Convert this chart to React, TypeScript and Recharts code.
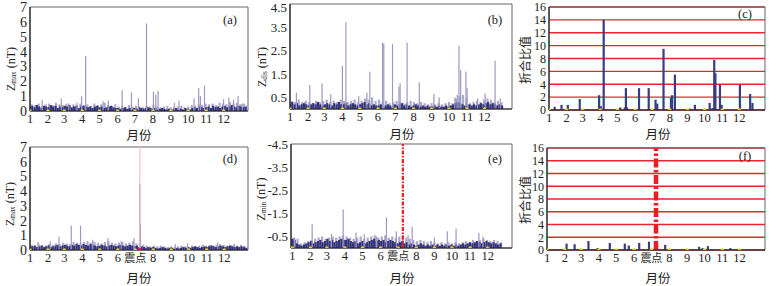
import React from 'react';
import {
  ComposedChart,
  Bar,
  XAxis,
  YAxis,
  Scatter,
  ReferenceLine,
  ReferenceArea,
  CartesianGrid,
} from 'recharts';

const FONT = '"Liberation Serif", "Noto Sans CJK SC", serif';
const CJK = '"Noto Sans CJK SC", "Liberation Serif", serif';

// day of year where each month starts
const monthStarts = [0, 31, 59, 90, 120, 151, 181, 212, 243, 273, 304, 334];
const monthLabels = ['1', '2', '3', '4', '5', '6', '7', '8', '9', '10', '11', '12'];
const quakeLabels = ['1', '2', '3', '4', '5', '6', '震点', '8', '9', '10', '11', '12'];
const quakeDay = 189;

// (a) Zmax, year without quake: background every 4 days, lighter layer every 6 days, spikes [day, nT]
const aDark = [
  0.3, 0.35, 0.25, 0.4, 0.3, 0.2, 0.35, 0.3, 0.25, 0.4, 0.3, 0.35, 0.2, 0.3, 0.25, 0.35, 0.3, 0.4, 0.25, 0.3, 0.35, 0.2, 0.3,
  0.35, 0.3, 0.25, 0.3, 0.2, 0.3, 0.35, 0.25, 0.3, 0.2, 0.25, 0.3, 0.35, 0.25, 0.2,
  0.2, 0.15, 0.2, 0.25, 0.15, 0.2, 0.1, 0.2, 0.15, 0.25, 0.2, 0.15, 0.2, 0.25, 0.2, 0.15, 0.2, 0.1, 0.15, 0.2, 0.15, 0.1, 0.15,
  0.1, 0.15, 0.2, 0.1, 0.15, 0.1, 0.2, 0.15, 0.1, 0.2, 0.25, 0.2, 0.3, 0.25, 0.2,
  0.25, 0.3, 0.2, 0.35, 0.25, 0.3, 0.2, 0.3, 0.35, 0.25, 0.3, 0.4, 0.3, 0.25, 0.35, 0.3, 0.25, 0.3,
];
const aLight = [
  0.45, 0.4, 0.5, 0.35, 0.45, 0.5, 0.4, 0.55, 0.45, 0.4, 0.5, 0.35, 0.45, 0.4, 0.5,
  0.4, 0.45, 0.35, 0.5, 0.4, 0.45, 0.55, 0.4, 0.35, 0.45,
  0.3, 0.35, 0.25, 0.4, 0.3, 0.35, 0.3, 0.25, 0.35, 0.3, 0.4, 0.3, 0.25, 0.3, 0.35, 0.25,
  0.25, 0.3, 0.35, 0.25, 0.3, 0.4, 0.35, 0.45, 0.4, 0.5,
  0.45, 0.5, 0.4, 0.55, 0.5, 0.45, 0.6, 0.5, 0.55, 0.45, 0.5, 0.4,
];
const aSpikes = [
  [21, 0.73], [54, 0.84], [67, 0.5], [81, 0.55], [89, 1.0], [96, 3.7], [126, 0.65], [135, 0.7],
  [159, 1.4], [175, 1.25], [187, 0.85], [201, 5.9], [213, 1.3], [217, 1.1], [221, 1.35],
  [249, 0.55], [257, 0.7], [283, 0.85], [291, 1.55], [294, 1.0], [301, 1.7], [334, 0.8],
  [343, 0.9], [351, 0.75], [359, 1.0], [366, 0.5],
];

// (b) Zdis
const bDark = [
  0.25, 0.3, 0.2, 0.25, 0.15, 0.2, 0.25, 0.2, 0.15, 0.2, 0.25, 0.2, 0.3, 0.2, 0.15, 0.2, 0.25, 0.2, 0.15, 0.25, 0.2, 0.3, 0.2,
  0.2, 0.25, 0.15, 0.2, 0.25, 0.2, 0.15, 0.2, 0.25, 0.3, 0.2, 0.25, 0.15, 0.2, 0.15,
  0.15, 0.2, 0.1, 0.15, 0.2, 0.15, 0.1, 0.2, 0.15, 0.2, 0.25, 0.15, 0.2, 0.15, 0.1, 0.15, 0.2, 0.15, 0.1, 0.15, 0.1, 0.15, 0.1,
  0.1, 0.15, 0.1, 0.15, 0.1, 0.1, 0.15, 0.1, 0.15, 0.2, 0.25, 0.3, 0.25, 0.2, 0.15,
  0.15, 0.2, 0.15, 0.2, 0.15, 0.2, 0.25, 0.2, 0.25, 0.3, 0.2, 0.25, 0.2, 0.15, 0.2, 0.15,
];
const bLight = [
  0.35, 0.3, 0.4, 0.3, 0.35, 0.3, 0.25, 0.35, 0.3, 0.35, 0.4, 0.3, 0.35, 0.3, 0.4,
  0.35, 0.3, 0.35, 0.4, 0.3, 0.35, 0.45, 0.4, 0.5, 0.35,
  0.4, 0.3, 0.35, 0.25, 0.3, 0.35, 0.3, 0.25, 0.3, 0.35, 0.3, 0.25, 0.3, 0.25, 0.2, 0.25,
  0.2, 0.25, 0.2, 0.25, 0.3, 0.25, 0.45, 0.55, 0.6, 0.45,
  0.25, 0.3, 0.35, 0.3, 0.4, 0.45, 0.4, 0.3, 0.35, 0.3,
];
const bSpikes = [
  [11, 0.7], [34, 1.03], [55, 1.1], [70, 0.63], [90, 1.85], [96, 3.72], [118, 0.55], [132, 0.7],
  [137, 1.6], [159, 2.84], [161, 2.8], [176, 2.79], [187, 0.95], [189, 1.1], [201, 2.84],
  [222, 1.14], [247, 0.64], [256, 0.5], [283, 0.5], [287, 0.6], [290, 2.71], [293, 1.67],
  [302, 1.6], [304, 0.89], [322, 0.45], [335, 0.67], [352, 2.07], [361, 0.45],
];

// (c) ratio, year without quake [day, ratio]
const cBars = [
  [10, 0.5], [22, 0.8], [33, 0.8], [54, 1.7], [68, 0.1], [88, 2.3], [91, 0.6], [96, 14],
  [125, 0.4], [133, 0.4], [135, 3.4], [137, 0.4], [158, 3.4], [175, 3.4], [187, 1.6], [190, 1.0],
  [201, 9.5], [214, 1.9], [216, 2.3], [221, 5.5], [247, 0.2], [256, 0.8], [282, 1.1], [287, 0.3],
  [290, 7.8], [292, 5.7], [300, 3.9], [303, 0.8], [335, 3.9], [353, 2.5], [357, 1.1],
];

// (d) Zmax, quake year
const dDark = [
  0.3, 0.25, 0.3, 0.2, 0.25, 0.3, 0.2, 0.25, 0.3, 0.2, 0.25, 0.3, 0.35, 0.25, 0.3, 0.35, 0.3, 0.25, 0.35, 0.3, 0.4, 0.35, 0.3,
  0.4, 0.35, 0.3, 0.4, 0.35, 0.3, 0.25, 0.3, 0.35, 0.3, 0.25, 0.3, 0.35, 0.3, 0.25,
  0.3, 0.35, 0.3, 0.25, 0.3, 0.35, 0.3, 0.25, 0.3, 0.2, 0.25, 0.2, 0.15, 0.2, 0.15, 0.2, 0.15, 0.1, 0.15, 0.2, 0.15, 0.1, 0.15,
  0.15, 0.1, 0.15, 0.1, 0.15, 0.2, 0.15, 0.2, 0.15, 0.2, 0.25, 0.2, 0.15, 0.2, 0.25,
  0.2, 0.25, 0.3, 0.25, 0.2, 0.25, 0.3, 0.25, 0.2, 0.25, 0.3, 0.25, 0.2, 0.25, 0.2, 0.25, 0.2, 0.15,
];
const dLight = [
  0.35, 0.3, 0.4, 0.35, 0.3, 0.4, 0.35, 0.45, 0.4, 0.5, 0.45, 0.4, 0.55, 0.5, 0.45,
  0.55, 0.6, 0.5, 0.55, 0.5, 0.45, 0.55, 0.6, 0.5, 0.45,
  0.5, 0.55, 0.45, 0.5, 0.6, 0.45, 0.4, 0.35, 0.3, 0.25, 0.3, 0.25, 0.3, 0.25, 0.2, 0.25,
  0.2, 0.25, 0.3, 0.25, 0.2, 0.3, 0.25, 0.3, 0.35, 0.3,
  0.35, 0.3, 0.35, 0.4, 0.35, 0.3, 0.35, 0.4, 0.3, 0.35, 0.3, 0.25,
];
const dSpikes = [
  [14, 0.55], [35, 0.6], [50, 0.9], [71, 1.66], [87, 1.66], [108, 0.7], [134, 0.8], [157, 0.6],
  [179, 0.8], [189, 4.5], [190, 1.75], [250, 0.4], [271, 0.45], [323, 0.5],
];

// (e) Zmin (plotted as magnitude), quake year
const eDark = [
  0.4, 0.35, 0.2, 0.15, 0.1, 0.15, 0.2, 0.25, 0.3, 0.2, 0.25, 0.3, 0.35, 0.25, 0.3, 0.4, 0.3, 0.35, 0.25, 0.3, 0.35, 0.4, 0.35,
  0.35, 0.4, 0.3, 0.25, 0.3, 0.2, 0.25, 0.3, 0.2, 0.25, 0.3, 0.35, 0.4, 0.3, 0.35,
  0.3, 0.35, 0.25, 0.3, 0.35, 0.3, 0.25, 0.2, 0.25, 0.3, 0.2, 0.25, 0.15, 0.2, 0.15, 0.1, 0.15, 0.2, 0.15, 0.1, 0.15, 0.1, 0.15,
  0.1, 0.15, 0.1, 0.15, 0.1, 0.15, 0.1, 0.15, 0.1, 0.15, 0.1, 0.15, 0.2, 0.15, 0.2,
  0.25, 0.2, 0.25, 0.3, 0.25, 0.2, 0.25, 0.3, 0.25, 0.2, 0.25, 0.2, 0.15, 0.2,
];
const eLight = [
  0.45, 0.4, 0.2, 0.25, 0.3, 0.35, 0.4, 0.45, 0.5, 0.4, 0.45, 0.5, 0.45, 0.5, 0.55,
  0.5, 0.45, 0.4, 0.45, 0.5, 0.4, 0.45, 0.5, 0.55, 0.45,
  0.5, 0.55, 0.45, 0.5, 0.45, 0.5, 0.55, 0.45, 0.4, 0.35, 0.3, 0.35, 0.3, 0.25, 0.3, 0.25,
  0.2, 0.25, 0.2, 0.25, 0.2, 0.25, 0.2, 0.25, 0.3, 0.25,
  0.35, 0.3, 0.35, 0.4, 0.35, 0.3, 0.35, 0.3, 0.25,
];
const eSpikes = [
  [4, 0.45], [34, 1.03], [67, 0.6], [87, 1.67], [109, 0.67], [123, 0.6], [144, 0.5], [161, 1.32],
  [178, 0.72], [198, 0.55], [205, 0.91], [243, 0.45], [265, 0.72], [280, 0.84], [319, 0.65], [326, 0.5],
];

// (f) ratio, quake year
const fBars = [
  [34, 1.0], [48, 0.9], [72, 1.4], [88, 0.3], [109, 1.1], [135, 1.0], [142, 0.7], [160, 1.1],
  [177, 1.3], [205, 0.8], [264, 0.5], [270, 0.3], [279, 0.6], [318, 0.3],
];

const COLORS: Record<string, string> = { dark: '#34347a', light: '#aca8cf', spike: '#9d99c2', ratio: '#3c3c82' };

const denseRows = (dark: number[], light: number[], spikes: number[][]) => [
  ...light.map((v, i) => ({ x: 3 + i * 6, v, kind: 'light' })),
  ...dark.map((v, i) => ({ x: i * 4, v, kind: 'dark' })),
  ...spikes.map(([x, v]) => ({ x, v, kind: 'spike' })),
];
const ratioRows = (bars: number[][]) => bars.map(([x, v]) => ({ x, v, kind: 'ratio' }));

const tickDots = monthStarts.map((x) => ({ x, y: 0 }));

const YW = 40;
const MT = 10;
const MR = 10;
const XH = 30;

const barShape = (p: any) => {
  const kind = p.payload?.kind ?? 'dark';
  const w = kind === 'spike' ? 1.2 : 2.2;
  const cx = p.x + p.width / 2;
  return <rect x={cx - w / 2} y={p.y} width={w} height={Math.max(0, p.height)} fill={COLORS[kind]} />;
};

const MonthTick = (p: any) => {
  const i = monthStarts.indexOf(p.payload.value);
  const label = p.labels[i];
  const cjk = label === '震点';
  return (
    <text x={p.x} y={p.y} dy={11.5} textAnchor="middle" fontFamily={cjk ? CJK : FONT} fontSize={cjk ? 11 : 12.5} fill="#222">
      {label}
    </text>
  );
};

// y tick label; the top one is kept inside the page
const ValueTick = (p: any) => {
  const label = p.format ? p.format(p.payload.value) : String(p.payload.value);
  return (
    <text x={p.x} y={Math.max(p.y, p.minY)} dy="0.355em" textAnchor="end" fontFamily={FONT} fontSize={p.size} fill="#222">
      {label}
    </text>
  );
};

type PanelProps = {
  box: { x: number; y: number; w: number; h: number };
  xDomain: [number, number];
  yMax: number;
  yTicks: number[];
  yFont: number;
  yFormat?: (v: number) => string;
  labels: string[];
  rows: any[];
  ratio?: boolean;
  quake?: 'pink' | 'dashed' | 'thick';
};

const Panel = ({ box, xDomain, yMax, yTicks, yFont, yFormat, labels, rows, ratio, quake }: PanelProps) => {
  const minY = MT - box.y + 7;
  return (
    <div style={{ position: 'absolute', left: box.x - YW, top: box.y - MT }}>
      <ComposedChart
        width={YW + box.w + MR}
        height={MT + box.h + XH}
        data={rows}
        margin={{ top: MT, right: MR, bottom: 0, left: 0 }}
      >
        {ratio && <CartesianGrid vertical={false} stroke="#e8262c" strokeWidth={1.3} />}
        <XAxis
          type="number"
          dataKey="x"
          domain={xDomain}
          ticks={monthStarts}
          interval={0}
          allowDataOverflow
          height={XH}
          axisLine={{ stroke: '#222', strokeWidth: 1.2 }}
          tickLine={false}
          tickSize={0}
          tickMargin={0}
          tick={(p: any) => <MonthTick {...p} labels={labels} />}
        />
        <YAxis
          type="number"
          domain={[0, yMax]}
          ticks={yTicks}
          interval={0}
          allowDataOverflow
          width={YW}
          axisLine={{ stroke: '#222', strokeWidth: 1.2 }}
          tickLine={false}
          tickSize={0}
          tickMargin={3}
          tick={(p: any) => <ValueTick {...p} size={yFont} format={yFormat} minY={minY} />}
        />
        <ReferenceArea x1={xDomain[0]} x2={xDomain[1]} y1={0} y2={yMax} fill="none" stroke="#666" strokeWidth={1} ifOverflow="extendDomain" />
        {quake === 'pink' && <ReferenceLine x={quakeDay} stroke="#f2b9c2" strokeWidth={1} />}
        <Bar dataKey="v" barSize={2} isAnimationActive={false} shape={barShape} />
        {quake === 'dashed' && (
          <ReferenceLine x={quakeDay} stroke="#ee1c24" strokeWidth={2.2} strokeDasharray="4 1.5 1.5 1.5" />
        )}
        {quake === 'thick' && (
          <ReferenceLine x={quakeDay} stroke="#ee1c24" strokeWidth={4.5} strokeDasharray="9 2.5 2.5 2.5" />
        )}
        <Scatter
          data={tickDots}
          dataKey="y"
          isAnimationActive={false}
          shape={(p: any) => <circle cx={p.cx} cy={p.cy} r={1.8} fill="#e2cf14" />}
        />
        {quake === 'pink' && (
          <Scatter
            data={[{ x: quakeDay, y: 0 }]}
            dataKey="y"
            isAnimationActive={false}
            shape={(p: any) => <circle cx={p.cx} cy={p.cy} r={2} fill="#e8141c" />}
          />
        )}
      </ComposedChart>
    </div>
  );
};

const Txt = ({ x, y, size = 13, font = FONT, rotate = false, children }: any) => (
  <div
    style={{
      position: 'absolute',
      left: x,
      top: y,
      transform: `translate(-50%, -50%)${rotate ? ' rotate(-90deg)' : ''}`,
      whiteSpace: 'nowrap',
      fontFamily: font,
      fontSize: size,
      lineHeight: 1,
      color: '#222',
    }}
  >
    {children}
  </div>
);

const ZLabel = ({ sub }: { sub: string }) => (
  <span>
    Z<sub style={{ fontSize: '0.6em', verticalAlign: '-0.15em' }}>{sub}</sub> (nT)
  </span>
);

const int7 = [0, 1, 2, 3, 4, 5, 6, 7];
const half45 = [0.5, 1.5, 2.5, 3.5, 4.5];
const even16 = [0, 2, 4, 6, 8, 10, 12, 14, 16];

export default function App() {
  return (
    <div style={{ position: 'absolute', left: 0, top: 0, width: 776, height: 286, background: '#fff', overflow: 'hidden' }}>
      <Panel box={{ x: 30, y: 7, w: 218, h: 104 }} xDomain={[0, 376]} yMax={7} yTicks={int7} yFont={14}
        labels={monthLabels} rows={denseRows(aDark, aLight, aSpikes)} />
      <Panel box={{ x: 290, y: 4, w: 222, h: 105 }} xDomain={[0, 381]} yMax={4.5} yTicks={half45} yFont={13}
        labels={monthLabels} rows={denseRows(bDark, bLight, bSpikes)} />
      <Panel box={{ x: 549, y: 7, w: 216, h: 103 }} xDomain={[0, 379]} yMax={16} yTicks={even16} yFont={12}
        labels={monthLabels} rows={ratioRows(cBars)} ratio />
      <Panel box={{ x: 30, y: 147, w: 218, h: 103 }} xDomain={[0, 375]} yMax={7} yTicks={int7} yFont={14}
        labels={quakeLabels} rows={denseRows(dDark, dLight, dSpikes)} quake="pink" />
      <Panel box={{ x: 291, y: 144, w: 221, h: 104 }} xDomain={[-2.2, 375.6]} yMax={4.5} yTicks={half45} yFont={13}
        yFormat={(v) => `-${v}`} labels={quakeLabels} rows={denseRows(eDark, eLight, eSpikes)} quake="dashed" />
      <Panel box={{ x: 547, y: 148, w: 218, h: 102 }} xDomain={[0, 378]} yMax={16} yTicks={even16} yFont={12}
        labels={quakeLabels} rows={ratioRows(fBars)} ratio quake="thick" />

      <Txt x={12} y={69} size={12} rotate><ZLabel sub="max" /></Txt>
      <Txt x={263} y={67} size={12} rotate><ZLabel sub="dis" /></Txt>
      <Txt x={525} y={60} size={12} font={CJK} rotate>折合比值</Txt>
      <Txt x={11} y={204} size={12} rotate><ZLabel sub="max" /></Txt>
      <Txt x={262} y={199} size={12} rotate><ZLabel sub="min" /></Txt>
      <Txt x={525} y={200} size={12} font={CJK} rotate>折合比值</Txt>

      <Txt x={139} y={135} size={12.5} font={CJK}>月份</Txt>
      <Txt x={402} y={134} size={12.5} font={CJK}>月份</Txt>
      <Txt x={658} y={134} size={12.5} font={CJK}>月份</Txt>
      <Txt x={139} y={278} size={12.5} font={CJK}>月份</Txt>
      <Txt x={402} y={278} size={12.5} font={CJK}>月份</Txt>
      <Txt x={658} y={278} size={12.5} font={CJK}>月份</Txt>

      <Txt x={230} y={20} size={12.5}>(a)</Txt>
      <Txt x={495} y={20} size={12.5}>(b)</Txt>
      <Txt x={745} y={14} size={12.5}>(c)</Txt>
      <Txt x={230} y={159} size={12.5}>(d)</Txt>
      <Txt x={495} y={159} size={12.5}>(e)</Txt>
      <Txt x={745} y={156} size={12.5}>(f)</Txt>
    </div>
  );
}
